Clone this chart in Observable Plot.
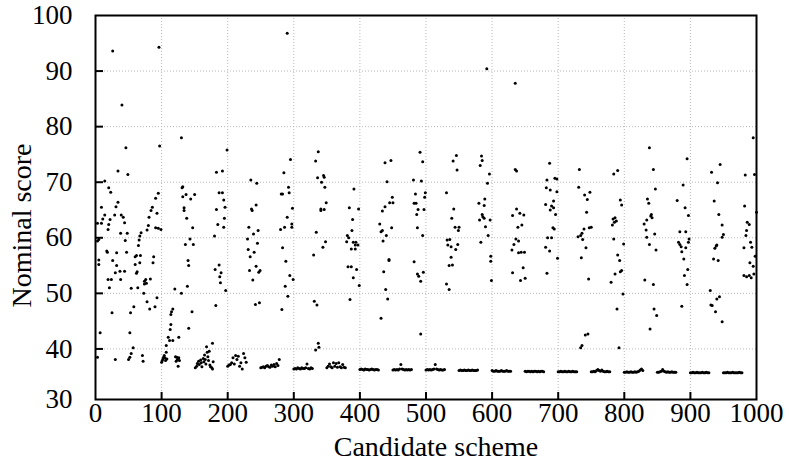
<!DOCTYPE html>
<html><head><meta charset="utf-8">
<script src="https://cdn.jsdelivr.net/npm/d3@7"></script>
<script src="https://cdn.jsdelivr.net/npm/@observablehq/plot@0.6"></script>
<style>body{margin:0;background:#fff;}</style>
</head><body><div id="chart"></div>
<script>
const xTicks = [0,100,200,300,400,500,600,700,800,900,1000];
const yTicks = [30,40,50,60,70,80,90,100];
const xTitle = "Candidate scheme";
const yTitle = "Nominal score";

// scattered (exploratory) candidates [scheme, score]
const spreadPoints = [
[26,93.6],[96,94.3],[40,83.9],[46,76.2],[97,76.5],[34,72.0],[49,71.4],
[14,70.2],[20,69.0],[23,68.2],[95,68.0],[91,67.1],[34,66.4],[31,65.6],[9,65.5],[86,65.5],[84,64.9],[29,64.1],[14,64.1],[39,64.1],[42,63.7],[93,64.4],[81,63.7],[11,63.4],[9,62.6],[3,62.6],[22,63.3],[44,62.7],[20,62.4],[19,61.5],[80,62.2],[78,61.4],[91,61.8],[95,61.7],[99,61.5],[69,60.9],[67,60.3],[38,60.8],[48,60.8],[5,59.7],[3,59.4],[45,59.5],[66,59.6],[65,58.6],[17,57.6],[18,57.4],[32,57.3],[47,57.4],[26,55.9],[32,55.0],[60,56.6],[62,56.8],[68,56.8],[60,55.2],[67,55.5],[88,56.6],[87,55.5],[5,56.0],[5,55.2],[37,54.0],[30,53.7],[44,54.0],[63,53.9],[62,53.6],[19,52.5],[24,52.5],[38,52.5],[76,52.5],[74,52.2],[77,51.8],[74,51.7],[83,52.6],[21,51.0],[54,50.9],[64,51.0],[73,50.0],[93,49.2],[78,48.5],[90,47.6],[82,47.2],[58,47.6],[25,46.5],[53,46.5],[7,42.9],[52,42.9],[57,40.2],[54,39.2],[52,38.5],[50,38.1],[30,38.1],[3,38.5],[71,38.8],[72,37.8],
[130,78.0],[131,69.0],[132,69.2],[137,67.8],[132,67.4],[144,67.0],[150,67.8],[134,65.4],[134,64.9],[138,63.5],[147,61.8],[143,59.8],[136,58.8],[148,58.8],[140,55.9],[141,55.0],[139,51.3],[130,50.0],[146,46.7],[141,43.7],[126,42.1],[120,50.8],[117,47.2],[115,46.7],[114,46.2],[114,44.4],[113,43.5],[110,42.1],[112,41.5],[117,41.5],[107,40.6],
[183,71.8],[192,72.0],[187,68.1],[192,68.1],[194,66.8],[196,65.5],[183,65.1],[195,63.5],[185,62.4],[194,61.9],[180,60.3],[181,54.3],[187,55.1],[190,53.7],[188,53.0],[189,51.9],[197,50.5],[182,47.8],[199,75.8],[177,41.0],[168,40.4],
[235,70.4],[244,69.8],[236,65.2],[237,64.9],[243,65.9],[232,61.9],[239,60.7],[246,61.3],[230,59.8],[245,59.0],[231,57.9],[240,57.4],[234,56.6],[243,54.9],[233,54.1],[249,54.1],[247,53.8],[238,52.4],[242,48.0],[248,48.3],
[290,96.8],[295,74.1],[285,71.7],[292,69.1],[281,67.9],[283,67.9],[293,68.1],[298,65.3],[290,63.7],[286,61.9],[280,61.5],[297,62.5],[297,61.9],[283,58.2],[288,55.8],[294,53.2],[299,52.5],[287,51.3],[291,49.5],[282,47.1],
[337,75.5],[333,73.8],[336,70.8],[342,70.0],[345,71.2],[346,70.9],[347,69.1],[341,65.2],[341,64.9],[346,65.1],[349,66.3],[334,61.0],[348,59.3],[344,58.3],[330,56.9],[331,48.6],[335,47.9],[333,39.8],[337,41.0],[338,40.3],
[391,68.8],[384,65.4],[398,65.2],[389,63.3],[388,61.3],[381,60.4],[383,60.0],[380,59.3],[390,59.2],[394,59.2],[397,58.7],[393,58.7],[387,58.0],[393,58.0],[382,54.8],[387,54.8],[395,54.3],[390,52.8],[399,51.4],[385,48.9],
[438,73.5],[447,73.9],[441,70.1],[449,67.3],[445,66.3],[450,66.3],[438,65.6],[434,64.8],[430,62.5],[448,61.8],[432,61.1],[434,61.3],[440,60.4],[435,59.4],[444,56.1],[444,55.9],[436,53.9],[439,50.7],[442,49.0],[432,45.5],
[491,75.4],[495,73.7],[481,70.4],[493,70.2],[484,67.9],[482,66.2],[485,66.2],[488,65.1],[486,64.2],[499,68.1],[498,67.3],[497,65.1],[487,61.8],[495,60.4],[482,55.7],[487,53.5],[489,53.1],[492,52.2],[496,53.8],[492,42.7],
[531,68.1],[541,73.8],[546,74.8],[547,72.2],[542,65.2],[539,63.5],[544,61.9],[550,61.9],[549,61.3],[532,59.6],[536,59.7],[533,58.7],[538,58.4],[548,58.8],[545,57.9],[538,56.5],[535,55.0],[540,55.1],[531,51.7],[535,50.7],
[592,90.4],[584,74.7],[585,73.9],[582,73.0],[596,71.5],[593,69.8],[589,67.0],[580,66.2],[588,65.8],[585,64.2],[586,63.8],[588,63.5],[581,63.2],[597,63.2],[590,62.0],[594,60.4],[583,59.2],[598,56.7],[598,55.8],[599,52.3],
[635,87.8],[635,72.3],[637,72.0],[637,65.2],[631,64.0],[642,64.4],[648,64.1],[639,61.9],[645,62.3],[636,59.8],[640,59.4],[633,58.8],[630,57.8],[640,57.3],[644,57.4],[649,57.4],[647,54.6],[631,53.7],[643,52.3],[650,52.7],
[687,73.4],[683,70.4],[695,70.7],[698,70.6],[682,69.0],[688,68.6],[698,68.3],[693,66.6],[690,65.7],[693,65.4],[688,65.0],[681,66.0],[696,64.2],[692,61.8],[694,61.6],[684,60.0],[690,60.0],[681,58.3],[687,57.6],[699,56.3],[683,53.6],
[732,72.3],[731,69.1],[740,67.7],[744,66.9],[748,68.2],[743,64.6],[747,61.8],[750,61.9],[739,61.6],[736,60.8],[734,60.4],[737,59.7],[730,60.2],[742,58.2],[735,56.4],[746,52.6],[741,42.5],[745,42.7],[734,40.2],[736,40.6],
[784,71.5],[790,72.1],[794,66.8],[796,65.9],[783,63.4],[786,63.6],[788,63.0],[782,62.3],[785,62.8],[784,59.8],[799,58.9],[790,56.9],[793,55.9],[796,54.1],[794,53.9],[786,53.5],[780,52.0],[798,49.9],[789,47.2],[792,40.2],
[838,76.2],[844,72.3],[847,68.8],[835,67.0],[837,66.2],[841,64.2],[840,63.9],[842,63.6],[834,63.2],[830,62.5],[833,61.4],[846,60.7],[834,60.1],[838,58.8],[848,57.8],[831,52.4],[844,51.6],[845,47.2],[849,46.0],[839,43.6],
[895,74.2],[889,69.5],[880,66.7],[892,65.4],[897,64.0],[884,61.1],[893,61.1],[882,59.2],[884,58.8],[886,58.4],[898,59.8],[897,59.2],[887,57.5],[893,58.2],[890,56.2],[896,54.3],[891,53.2],[895,51.6],[887,47.7],
[932,71.8],[945,73.2],[941,69.9],[936,66.6],[943,64.2],[948,62.3],[950,60.6],[948,60.1],[937,58.1],[940,58.7],[939,58.5],[935,56.2],[942,55.9],[930,50.5],[931,47.9],[933,47.8],[940,49.0],[944,49.4],[938,46.7],[948,44.9],
[995,78.0],[983,71.3],[997,71.4],[982,65.7],[986,62.8],[989,62.4],[985,61.3],[984,60.4],[991,59.2],[993,58.3],[981,58.2],[998,56.7],[990,55.5],[995,54.9],[981,53.2],[985,53.0],[989,53.2],[992,52.8],[996,53.5],[1000,64.6]
];

// early low-score groups [scheme, score]
const lowPoints = [
[100,37.6],[101,37.9],[102,38.2],[103,38.5],[104,38.8],[105,38.4],[106,37.9],[107,39.4],[108,38.2],[121,38.6],[122,37.8],[123,38.5],[124,38.1],[125,36.9],[126,38.4],[127,37.9],
[151,36.6],[153,36.9],[154,37.4],[156,37.8],[157,37.2],[159,38.0],[160,37.5],[161,36.8],[163,38.3],[164,37.7],[165,38.9],[166,38.1],[167,37.3],[169,39.4],[170,38.6],[171,37.9],[172,39.6],[173,37.1],[174,36.8],[176,36.6],[177,36.4],[178,37.7]
];

// converged groups: first scheme of each group and the scores of its schemes (every 2nd)
const clusterStarts = [200,250,300,350,400,450,500,550,600,650,700,750,800,850,900,950];
const clusterLevels = [
[36.9,37.1,37.2,37.5,38.4,37.3,38.8,38.1,38.7,36.9,37.5,36.4,39.2,38.4,37.6],
[36.6,36.7,36.8,36.6,36.9,37.0,36.8,36.7,37.1,36.9,37.2,36.8,37.4,37.0,38.1],
[36.4,36.5,36.4,36.6,36.5,36.4,36.6,36.5,36.5,36.6,37.3,36.5,36.4,36.6,36.5],
[36.6,36.9,37.3,36.8,36.6,37.5,36.9,37.4,36.7,37.5,36.8,36.6,37.2,36.7,36.6],
[36.3,36.4,36.3,36.2,36.4,36.3,36.3,36.2,36.3,36.4,36.3,36.2,36.3,36.3,36.2],
[36.2,36.3,36.2,36.3,36.2,36.4,37.2,36.4,36.3,36.2,36.3,36.2,36.3,36.2,36.3],
[36.2,36.3,36.2,36.3,36.2,36.3,36.4,37.2,36.4,36.3,36.2,36.3,36.2,36.2,36.3],
[36.1,36.2,36.1,36.1,36.2,36.1,36.1,36.2,36.1,36.1,36.2,36.1,36.1,36.1,36.2],
[36.1,36.0,36.0,36.1,36.0,36.0,36.0,36.1,36.0,36.0,36.0,36.1,36.0,36.0,36.0],
[36.0,35.9,36.0,36.0,35.9,36.0,35.9,36.0,36.0,35.9,36.0,35.9,36.0,36.0,35.9],
[35.9,35.9,36.0,35.9,35.9,36.0,35.9,35.9,36.0,35.9,35.9,36.0,35.9,35.9,35.9],
[35.9,35.9,36.0,35.9,36.1,36.3,36.1,36.0,36.2,36.0,35.9,35.9,36.0,35.9,35.9],
[35.8,35.8,35.9,35.8,35.8,35.9,35.8,35.8,35.9,35.8,35.9,36.0,36.2,36.4,36.1],
[35.8,35.8,35.9,36.0,36.3,36.0,35.9,35.8,35.9,35.8,35.8,35.9,35.8,35.8,35.8],
[35.7,35.7,35.8,35.7,35.7,35.8,35.7,35.7,35.7,35.8,35.7,35.7,35.8,35.7,35.7],
[35.7,35.7,35.7,35.8,35.7,35.7,35.7,35.8,35.7,35.7,35.7,35.7,35.8,35.7,35.7]
];

const yMin = 30.9;
const points = [...spreadPoints, ...lowPoints].map(([x, y]) => ({x, y}));
clusterStarts.forEach((s, k) => clusterLevels[k].forEach((y, i) => points.push({x: s + 2 * i, y})));

const font = '"Liberation Serif","Times New Roman",serif';
const inner = xTicks.slice(1, -1);
const innerY = yTicks.slice(1, -1);

const chart = Plot.plot({
  width: 789, height: 464,
  marginLeft: 95, marginRight: 33, marginTop: 15, marginBottom: 65,
  style: {fontFamily: font, fontSize: "27px", color: "black", background: "white"},
  x: {domain: [0, 1000]},
  y: {domain: [yMin, 100]},
  marks: [
    Plot.ruleX(inner, {x: d => d, stroke: "#b8b8b8", strokeDasharray: "1,2"}),
    Plot.ruleY(innerY, {y: d => d, stroke: "#b8b8b8", strokeDasharray: "1,2"}),
    Plot.dot(points, {x: "x", y: "y", r: 1.5, fill: "black", stroke: null}),
    Plot.tickX(inner, {x: d => d, insetTop: 377, strokeWidth: 2, stroke: "black"}),
    Plot.tickY(innerY, {y: d => d, insetRight: 653, strokeWidth: 2, stroke: "black"}),
    Plot.frame({stroke: "black", strokeWidth: 2}),
    Plot.axisX({ticks: xTicks, tickSize: 0, tickPadding: 3, label: null, fontSize: 27, tickFormat: d => String(d)}),
    Plot.axisY({ticks: yTicks.map(v => Math.max(v, yMin)), tickSize: 0, tickPadding: 23, label: null, fontSize: 27,
      tickFormat: d => String(Math.round(d / 10) * 10)}),
    Plot.text([xTitle], {text: d => d, frameAnchor: "bottom", lineAnchor: "middle", textAnchor: "middle", dx: 10, dy: 48, fontSize: 28}),
    Plot.text([yTitle], {text: d => d, frameAnchor: "left", lineAnchor: "middle", textAnchor: "middle", rotate: -90, dx: -73, dy: 18, fontSize: 28})
  ]
});
document.getElementById("chart").appendChild(chart);
</script>
</body></html>
